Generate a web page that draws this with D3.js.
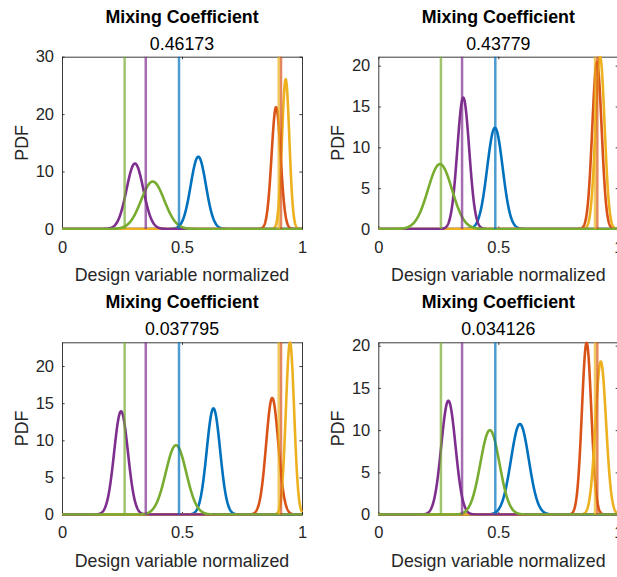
<!DOCTYPE html>
<html>
<head>
<meta charset="utf-8">
<script src="https://cdn.jsdelivr.net/npm/d3@7"></script>
<style>
  html, body { margin: 0; padding: 0; background: #fff; }
  svg { display: block; font-family: "Liberation Sans", Arial, Helvetica, sans-serif; }
</style>
</head>
<body>
<svg id="fig" width="617" height="577"></svg>
<script>
// Mixture components, in plotting order
const componentNames = ["Component 1", "Component 2", "Component 3", "Component 4", "Component 5"];
const componentColors = ["#0072BD", "#D95319", "#EDB120", "#7E2F8E", "#77AC30"];

// Reference design values (vertical markers), one per component
const referenceValues = [0.4875, 0.9125, 0.903, 0.349, 0.261];

// Mixing coefficient shown under each panel title
const mixingCoefficients = ["0.46173", "0.43779", "0.037795", "0.034126"];

// Fitted normal components per panel: means and standard deviations
const componentMeans = [
  [0.568, 0.892, 0.932, 0.304, 0.378],
  [0.486, 0.911, 0.924, 0.354, 0.257],
  [0.631, 0.876, 0.950, 0.246, 0.475],
  [0.590, 0.868, 0.927, 0.292, 0.465]
];
const componentSigmas = [
  [0.0317, 0.0188, 0.0153, 0.0350, 0.0483],
  [0.0322, 0.0195, 0.0189, 0.0248, 0.0502],
  [0.0279, 0.0254, 0.0172, 0.0287, 0.0427],
  [0.0372, 0.0196, 0.0220, 0.0296, 0.0399]
];

// Axis limits and ticks
const xDomain = [0, 1];
const xTicks = [0, 0.5, 1];
const yMaxima = [30, 21.1, 23.2, 20.4];
const yTicks = [
  [0, 10, 20, 30],
  [0, 5, 10, 15, 20],
  [0, 5, 10, 15, 20],
  [0, 5, 10, 15, 20]
];

const titleText = "Mixing Coefficient";
const xLabelText = "Design variable normalized";
const yLabelText = "PDF";

// Panel geometry (2 x 2 grid)
const plotW = 240, plotH = 172.3;
const colLeft = [62, 378.3];
const rowTop = [56.7, 342.3];

const svg = d3.select("#fig");
const axisColor = "#262626";
const tickLen = 2.6;

function normalPdf(x, mu, s) {
  const z = (x - mu) / s;
  return Math.exp(-0.5 * z * z) / (s * Math.sqrt(2 * Math.PI));
}

const nSamples = 1200;
const xs = d3.range(nSamples + 1).map(i => xDomain[0] + (xDomain[1] - xDomain[0]) * i / nSamples);

for (let p = 0; p < 4; p++) {
  const col = p % 2, row = Math.floor(p / 2);
  const left = colLeft[col], top = rowTop[row];

  const x = d3.scaleLinear().domain(xDomain).range([0, plotW]);
  const y = d3.scaleLinear().domain([0, yMaxima[p]]).range([plotH, 0]);

  const g = svg.append("g").attr("transform", `translate(${left},${top})`);

  const clipId = "clip" + p;
  g.append("clipPath").attr("id", clipId)
    .append("rect").attr("x", -1).attr("y", -1).attr("width", plotW + 2).attr("height", plotH + 2);

  // Axes: bottom/left with labels, top/right as the box with inward ticks
  const xAxis = d3.axisBottom(x).tickValues(xTicks).tickFormat(d3.format("")).tickSizeInner(-tickLen).tickSizeOuter(0).tickPadding(12);
  const xAxisTop = d3.axisTop(x).tickValues(xTicks).tickFormat("").tickSizeInner(-tickLen).tickSizeOuter(0);
  const yAxis = d3.axisLeft(y).tickValues(yTicks[p]).tickFormat(d3.format("")).tickSizeInner(-tickLen).tickSizeOuter(0).tickPadding(8);
  const yAxisRight = d3.axisRight(y).tickValues(yTicks[p]).tickFormat("").tickSizeInner(-tickLen).tickSizeOuter(0);

  const axes = [
    g.append("g").attr("transform", `translate(0,${plotH})`).call(xAxis),
    g.append("g").call(xAxisTop),
    g.append("g").call(yAxis),
    g.append("g").attr("transform", `translate(${plotW},0)`).call(yAxisRight)
  ];
  axes.forEach(a => {
    a.select(".domain").attr("stroke", axisColor).attr("stroke-width", 0.9);
    a.selectAll(".tick line").attr("stroke", axisColor).attr("stroke-width", 0.9);
    a.selectAll(".tick text").attr("fill", axisColor).attr("font-size", 16.5)
      .attr("font-family", "'Liberation Sans', Arial, sans-serif");
  });
  axes[0].selectAll(".tick text").attr("dy", "0.71em");

  const plot = g.append("g").attr("clip-path", `url(#${clipId})`);

  // Component densities
  const line = d3.line().x(d => x(d[0])).y(d => y(d[1]));
  componentNames.forEach((name, i) => {
    const pts = xs.map(v => [v, normalPdf(v, componentMeans[p][i], componentSigmas[p][i])]);
    plot.append("path")
      .datum(pts)
      .attr("fill", "none")
      .attr("stroke", componentColors[i])
      .attr("stroke-width", 2.6)
      .attr("stroke-linejoin", "round")
      .attr("d", line);
  });

  // Reference value markers
  componentNames.forEach((name, i) => {
    plot.append("line")
      .attr("x1", x(referenceValues[i])).attr("x2", x(referenceValues[i]))
      .attr("y1", y(0)).attr("y2", y(yMaxima[p]))
      .attr("stroke", componentColors[i])
      .attr("stroke-opacity", 0.7)
      .attr("stroke-width", 2.5);
  });

  // Titles
  g.append("text")
    .attr("x", plotW / 2).attr("y", -34)
    .attr("text-anchor", "middle")
    .attr("font-size", 17.8).attr("font-weight", "bold")
    .attr("fill", "#000")
    .text(titleText);
  g.append("text")
    .attr("x", plotW / 2).attr("y", -7)
    .attr("text-anchor", "middle")
    .attr("font-size", 17.8)
    .attr("fill", "#000")
    .text(mixingCoefficients[p]);

  // Axis labels
  g.append("text")
    .attr("x", plotW / 2).attr("y", plotH + 52)
    .attr("text-anchor", "middle")
    .attr("font-size", 17.8)
    .attr("fill", axisColor)
    .text(xLabelText);
  g.append("text")
    .attr("transform", `translate(${-34.5},${plotH / 2}) rotate(-90)`)
    .attr("text-anchor", "middle")
    .attr("font-size", 17.8)
    .attr("fill", axisColor)
    .text(yLabelText);
}
</script>
</body>
</html>
